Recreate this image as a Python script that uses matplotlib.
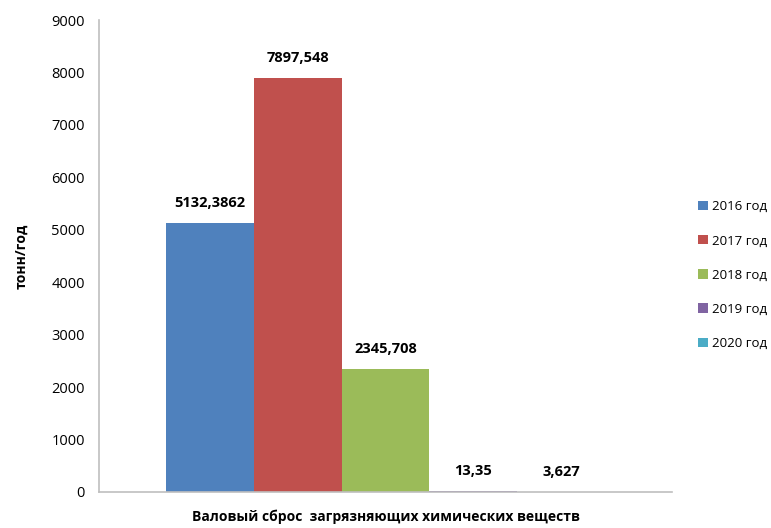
import numpy as np
import matplotlib
matplotlib.use("Agg")
import matplotlib.pyplot as plt

# Данные
category = "Валовый сброс  загрязняющих химических веществ"
years = ["2016 год", "2017 год", "2018 год", "2019 год", "2020 год"]
values = [5132.3862, 7897.548, 2345.708, 13.35, 3.627]
colors = ["#4F81BD", "#C0504D", "#9BBB59", "#8064A2", "#4BACC6"]

plt.rcParams['font.family'] = ['Open Sans', 'DejaVu Sans']

fig = plt.figure(figsize=(7.71, 5.28), dpi=100)
ax = fig.add_axes([0.1284, 0.0682, 0.7432, 0.8938])

n = len(values)
w = 1.0
for i, (v, c, lab) in enumerate(zip(values, colors, years)):
    x = (i - (n - 1) / 2) * w
    ax.bar(x, v, width=w, color=c, label=lab)
    ax.annotate(str(v).replace(".", ","), (x, v), xytext=(0, 14.4),
                textcoords="offset points", ha="center", va="center",
                fontsize=10.5, fontweight="bold")

ax.set_xlim(-3.256, 3.256)
ax.set_ylim(0, 9000)
ax.set_yticks(np.arange(0, 9001, 1000))
ax.set_xticks([0])
ax.set_xticklabels([category], fontsize=10, fontweight="bold")
ax.tick_params(axis="x", length=0, pad=13)
ax.tick_params(axis="y", length=0, pad=10, labelsize=10.5)
ax.set_ylabel("тонн/год", fontsize=10, fontweight="bold", labelpad=17)

for s in ["top", "right"]:
    ax.spines[s].set_visible(False)
for s in ["left", "bottom"]:
    ax.spines[s].set_color("#BFBFBF")
    ax.spines[s].set_linewidth(1.2)

fig.legend(loc="center left", bbox_to_anchor=(0.899, 0.479), frameon=False,
           fontsize=9.5, handlelength=0.7, handleheight=0.7,
           handletextpad=0.3, labelspacing=1.6, borderaxespad=0)

fig.savefig("out.png", dpi=100)
